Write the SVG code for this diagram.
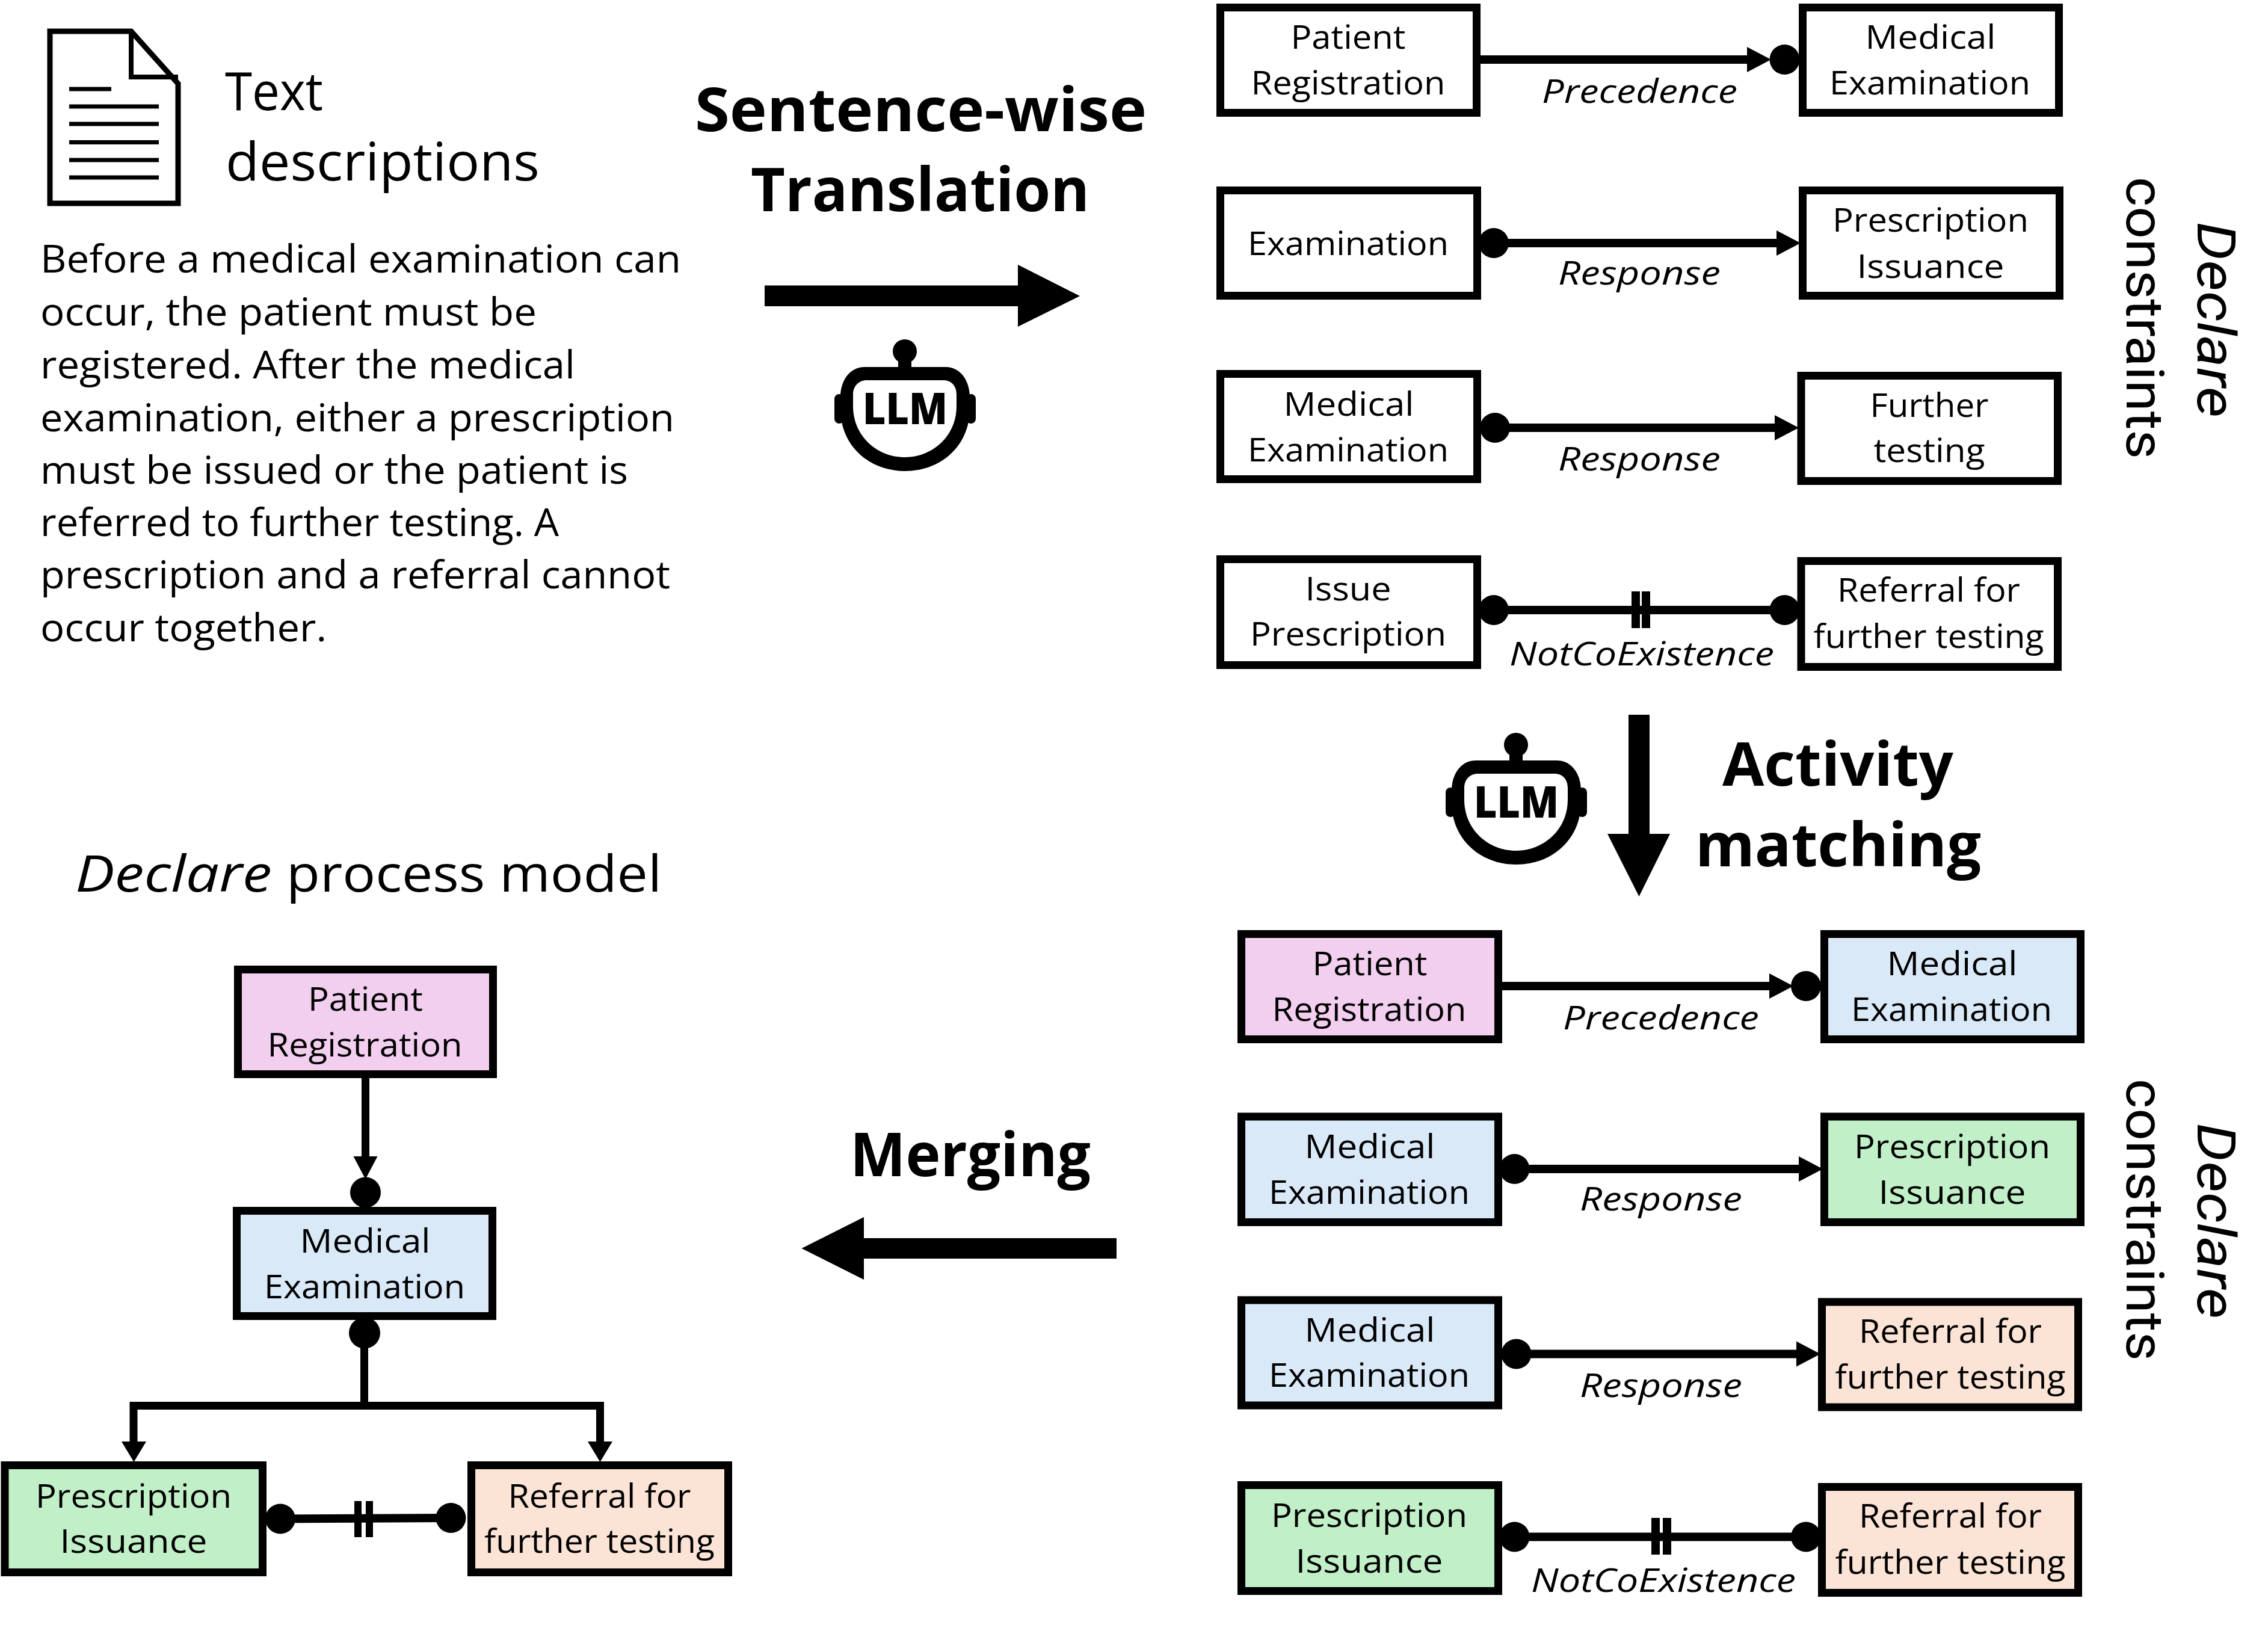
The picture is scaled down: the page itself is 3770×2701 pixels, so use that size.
<svg xmlns="http://www.w3.org/2000/svg" width="3770" height="2701" viewBox="0 0 3770 2701">
<style>
text{font-family:"Open Sans","Noto Sans","Liberation Sans",sans-serif;fill:#000}
.b{font-size:54px;text-anchor:middle}
.l{font-size:54px;font-style:italic}
.p{font-size:64px}
.t{font-size:87px}
.h{font-size:100px;font-weight:700}
.v{font-family:Roboto,"Open Sans",sans-serif;font-size:88px}
.n{stroke:#000;stroke-width:13;fill:#fff}
.pink{fill:#F2CEEF}.blue{fill:#DAE9F8}.green{fill:#C1F0C8}.peach{fill:#FBE3D6}
.c{stroke:#000;stroke-width:14;fill:none}
.a{marker-end:url(#ah)}
.dot{fill:#000}
.bar{fill:#000}
.ic{stroke:#000;stroke-width:7;fill:none}
.llm{font-size:73px;font-weight:800}
</style>
<defs>
<marker id="ah" markerUnits="userSpaceOnUse" markerWidth="42" markerHeight="44" refX="0" refY="22" orient="auto"><path d="M0,1 L40,22 L0,43Z" fill="#000"/></marker>
</defs>
<rect width="3770" height="2701" fill="#fff"/>

<g id="doc-icon">
<path d="M83,52 H218 L296,139 V338 H83Z" stroke="#000" stroke-width="9" fill="#fff"/>
<path d="M218,52 V128 H296" stroke="#000" stroke-width="8" fill="none"/>
<path class="ic" d="M115,148H185M115,177H264M115,206H264M115,236.500H264M115,266H264M115,295H264"/>
</g>
<g id="text-descriptions">
<text class="t" x="374" y="183" textLength="163" lengthAdjust="spacingAndGlyphs">Text</text>
<text class="t" x="375" y="300" textLength="522" lengthAdjust="spacingAndGlyphs">descriptions</text>
<text class="p" x="67" y="453" textLength="1065" lengthAdjust="spacingAndGlyphs">Before a medical examination can</text>
<text class="p" x="67" y="540.500" textLength="825" lengthAdjust="spacingAndGlyphs">occur, the patient must be</text>
<text class="p" x="67" y="628.500" textLength="889" lengthAdjust="spacingAndGlyphs">registered. After the medical</text>
<text class="p" x="67" y="717" textLength="1054" lengthAdjust="spacingAndGlyphs">examination, either a prescription</text>
<text class="p" x="67" y="804" textLength="977" lengthAdjust="spacingAndGlyphs">must be issued or the patient is</text>
<text class="p" x="67" y="891" textLength="862" lengthAdjust="spacingAndGlyphs">referred to further testing. A</text>
<text class="p" x="67" y="978" textLength="1047" lengthAdjust="spacingAndGlyphs">prescription and a referral cannot</text>
<text class="p" x="67" y="1066" textLength="476" lengthAdjust="spacingAndGlyphs">occur together.</text>
</g>

<g id="step-translation">
<text class="h" x="1155" y="218" textLength="751" lengthAdjust="spacingAndGlyphs">Sentence-wise</text>
<text class="h" x="1248" y="351" textLength="563" lengthAdjust="spacingAndGlyphs">Translation</text>
<path d="M1271,474.500H1692V440L1795,492L1692,543V509H1271Z"/>
</g>
<g id="llm-1">
<circle cx="1504" cy="584" r="20"/><rect x="1493" y="598" width="22" height="16"/>
<rect x="1387" y="655" width="16" height="49" rx="8"/><rect x="1606" y="655" width="16" height="49" rx="8"/>
<path fill-rule="evenodd" d="M1437,610H1572C1596,610 1612,632 1612,660V680C1612,740 1565,783 1504.500,783C1444,783 1397,740 1397,680V660C1397,632 1413,610 1437,610ZM1441,632C1427,632 1418,642 1418,656V675C1418,725 1458,760 1504,760C1550,760 1590,725 1590,675V656C1590,642 1582,632 1568,632Z"/>
<text class="llm" x="1434" y="705" textLength="141" lengthAdjust="spacingAndGlyphs">LLM</text>
</g>

<g id="connectors-top">
<path class="c a" d="M2461,99H2904"/><circle class="dot" cx="2966.500" cy="99" r="25"/>
<circle class="dot" cx="2483" cy="404" r="25"/><path class="c a" d="M2483,404H2953"/>
<circle class="dot" cx="2485" cy="711" r="25"/><path class="c a" d="M2485,711H2950"/>
<circle class="dot" cx="2483" cy="1014" r="25"/><circle class="dot" cx="2966.500" cy="1014" r="25"/><path class="c" d="M2483,1014H2966"/>
<rect class="bar" x="2712" y="983" width="14" height="61"/><rect class="bar" x="2729" y="983" width="14" height="61"/>
</g>
<g id="t1"><rect class="n" x="2028.500" y="12.500" width="426" height="175"/><text class="b" x="2241" y="81" textLength="191" lengthAdjust="spacingAndGlyphs">Patient</text><text class="b" x="2241" y="157" textLength="323" lengthAdjust="spacingAndGlyphs">Registration</text></g>
<g id="t2"><rect class="n" x="2996.500" y="12.500" width="426" height="175"/><text class="b" x="3209" y="81" textLength="217" lengthAdjust="spacingAndGlyphs">Medical</text><text class="b" x="3208" y="157" textLength="334" lengthAdjust="spacingAndGlyphs">Examination</text></g>
<g id="t3"><rect class="n" x="2028.500" y="316.500" width="427" height="175"/><text class="b" x="2241" y="424" textLength="334" lengthAdjust="spacingAndGlyphs">Examination</text></g>
<g id="t4"><rect class="n" x="2996.500" y="316.500" width="427" height="175"/><text class="b" x="3209" y="385" textLength="326" lengthAdjust="spacingAndGlyphs">Prescription</text><text class="b" x="3209" y="461.500" textLength="245" lengthAdjust="spacingAndGlyphs">Issuance</text></g>
<g id="t5"><rect class="n" x="2028.500" y="621.500" width="427" height="175"/><text class="b" x="2242" y="691" textLength="217" lengthAdjust="spacingAndGlyphs">Medical</text><text class="b" x="2241" y="767" textLength="334" lengthAdjust="spacingAndGlyphs">Examination</text></g>
<g id="t6"><rect class="n" x="2994" y="624.500" width="426.500" height="175"/><text class="b" x="3207" y="693" textLength="197" lengthAdjust="spacingAndGlyphs">Further</text><text class="b" x="3207" y="768" textLength="185" lengthAdjust="spacingAndGlyphs">testing</text></g>
<g id="t7"><rect class="n" x="2028.500" y="929.500" width="427" height="176"/><text class="b" x="2241" y="998" textLength="143" lengthAdjust="spacingAndGlyphs">Issue</text><text class="b" x="2241" y="1073" textLength="326" lengthAdjust="spacingAndGlyphs">Prescription</text></g>
<g id="t8"><rect class="n" x="2994" y="932.500" width="426.500" height="176"/><text class="b" x="3206" y="1000" textLength="304" lengthAdjust="spacingAndGlyphs">Referral for</text><text class="b" x="3206" y="1077" textLength="383" lengthAdjust="spacingAndGlyphs">further testing</text></g>
<g id="labels-top">
<text class="l" x="2563" y="171" textLength="325" lengthAdjust="spacingAndGlyphs">Precedence</text>
<text class="l" x="2590" y="473" textLength="270" lengthAdjust="spacingAndGlyphs">Response</text>
<text class="l" x="2590" y="782" textLength="270" lengthAdjust="spacingAndGlyphs">Response</text>
<text class="l" x="2509" y="1106" textLength="440" lengthAdjust="spacingAndGlyphs">NotCoExistence</text>
</g>
<g id="label-constraints-top">
<text class="v" transform="translate(3535,294) rotate(90)" textLength="469" lengthAdjust="spacingAndGlyphs">constraints</text>
<text class="v" style="font-style:italic" transform="translate(3652.500,369) rotate(90)" textLength="325" lengthAdjust="spacingAndGlyphs">Declare</text>
</g>

<g id="step-matching">
<path d="M2707,1188H2742V1386H2776L2724.500,1490L2672,1386H2707Z"/>
<text class="h" x="2863" y="1306" textLength="384" lengthAdjust="spacingAndGlyphs">Activity</text>
<text class="h" x="2818" y="1440" textLength="475" lengthAdjust="spacingAndGlyphs">matching</text>
</g>
<g id="llm-2" transform="translate(1016,654)">
<circle cx="1504" cy="584" r="20"/><rect x="1493" y="598" width="22" height="16"/>
<rect x="1387" y="655" width="16" height="49" rx="8"/><rect x="1606" y="655" width="16" height="49" rx="8"/>
<path fill-rule="evenodd" d="M1437,610H1572C1596,610 1612,632 1612,660V680C1612,740 1565,783 1504.500,783C1444,783 1397,740 1397,680V660C1397,632 1413,610 1437,610ZM1441,632C1427,632 1418,642 1418,656V675C1418,725 1458,760 1504,760C1550,760 1590,725 1590,675V656C1590,642 1582,632 1568,632Z"/>
<text class="llm" x="1434" y="705" textLength="141" lengthAdjust="spacingAndGlyphs">LLM</text>
</g>

<g id="connectors-mid">
<path class="c a" d="M2497,1639H2941"/><circle class="dot" cx="3002" cy="1639" r="25"/>
<circle class="dot" cx="2517.500" cy="1943" r="25"/><path class="c a" d="M2517,1943H2990"/>
<circle class="dot" cx="2520.500" cy="2250.500" r="25"/><path class="c a" d="M2520,2250.500H2986"/>
<circle class="dot" cx="2517.500" cy="2554.500" r="25"/><circle class="dot" cx="3002" cy="2554.500" r="25"/><path class="c" d="M2517,2554.500H3002"/>
<rect class="bar" x="2745" y="2523" width="14" height="61"/><rect class="bar" x="2764" y="2523" width="14" height="61"/>
</g>
<g id="m1"><rect class="n pink" x="2063.500" y="1552.500" width="427" height="175"/><text class="b" x="2277" y="1620.500" textLength="191" lengthAdjust="spacingAndGlyphs">Patient</text><text class="b" x="2276" y="1697" textLength="323" lengthAdjust="spacingAndGlyphs">Registration</text></g>
<g id="m2"><rect class="n blue" x="3032.500" y="1552.500" width="426" height="175"/><text class="b" x="3245" y="1620.500" textLength="217" lengthAdjust="spacingAndGlyphs">Medical</text><text class="b" x="3244" y="1697" textLength="334" lengthAdjust="spacingAndGlyphs">Examination</text></g>
<g id="m3"><rect class="n blue" x="2063.500" y="1856" width="427" height="175.500"/><text class="b" x="2277" y="1925" textLength="217" lengthAdjust="spacingAndGlyphs">Medical</text><text class="b" x="2276" y="2001" textLength="334" lengthAdjust="spacingAndGlyphs">Examination</text></g>
<g id="m4"><rect class="n green" x="3032.500" y="1856" width="426" height="175.500"/><text class="b" x="3245" y="1925" textLength="326" lengthAdjust="spacingAndGlyphs">Prescription</text><text class="b" x="3245" y="2001" textLength="245" lengthAdjust="spacingAndGlyphs">Issuance</text></g>
<g id="m5"><rect class="n blue" x="2063.500" y="2161" width="427" height="175"/><text class="b" x="2277" y="2230" textLength="217" lengthAdjust="spacingAndGlyphs">Medical</text><text class="b" x="2276" y="2305" textLength="334" lengthAdjust="spacingAndGlyphs">Examination</text></g>
<g id="m6"><rect class="n peach" x="3028.500" y="2164" width="426" height="175"/><text class="b" x="3242" y="2232" textLength="304" lengthAdjust="spacingAndGlyphs">Referral for</text><text class="b" x="3242" y="2308" textLength="383" lengthAdjust="spacingAndGlyphs">further testing</text></g>
<g id="m7"><rect class="n green" x="2063.500" y="2468.500" width="427" height="176"/><text class="b" x="2276" y="2537.500" textLength="326" lengthAdjust="spacingAndGlyphs">Prescription</text><text class="b" x="2276" y="2614" textLength="245" lengthAdjust="spacingAndGlyphs">Issuance</text></g>
<g id="m8"><rect class="n peach" x="3028.500" y="2471.500" width="426" height="176"/><text class="b" x="3242" y="2539" textLength="304" lengthAdjust="spacingAndGlyphs">Referral for</text><text class="b" x="3242" y="2616" textLength="383" lengthAdjust="spacingAndGlyphs">further testing</text></g>
<g id="labels-mid">
<text class="l" x="2598" y="1711" textLength="326" lengthAdjust="spacingAndGlyphs">Precedence</text>
<text class="l" x="2626" y="2012" textLength="270" lengthAdjust="spacingAndGlyphs">Response</text>
<text class="l" x="2626" y="2322" textLength="270" lengthAdjust="spacingAndGlyphs">Response</text>
<text class="l" x="2545" y="2646" textLength="440" lengthAdjust="spacingAndGlyphs">NotCoExistence</text>
</g>
<g id="label-constraints-mid">
<text class="v" transform="translate(3535,1793) rotate(90)" textLength="469" lengthAdjust="spacingAndGlyphs">constraints</text>
<text class="v" style="font-style:italic" transform="translate(3652.500,1867) rotate(90)" textLength="325" lengthAdjust="spacingAndGlyphs">Declare</text>
</g>

<g id="step-merging">
<text class="h" x="1413" y="1955" textLength="400" lengthAdjust="spacingAndGlyphs">Merging</text>
<path d="M1856,2058H1436V2023L1332.500,2075L1436,2127V2092H1856Z"/>
</g>

<g id="title-model">
<text x="125" y="1482" style="font-size:84px;font-style:italic" textLength="327" lengthAdjust="spacingAndGlyphs">Declare</text>
<text x="476" y="1482" style="font-size:84px" textLength="624" lengthAdjust="spacingAndGlyphs">process model</text>
</g>
<g id="connectors-model">
<path class="c" style="stroke-width:13" d="M607.500,1792V1922"/><path d="M587.500,1922H627.500L607.500,1960Z"/><circle class="dot" cx="607.500" cy="1982" r="25.500"/>
<circle class="dot" cx="606" cy="2215.500" r="26"/>
<path class="c" style="stroke-width:13" d="M605.500,2215V2336"/>
<path class="c" style="stroke-width:13" d="M222,2396V2336.500H997.500V2396"/>
<path d="M202,2396H243L222.500,2430Z"/><path d="M977,2396H1018L997.500,2430Z"/>
<circle class="dot" cx="466" cy="2524.500" r="25"/><circle class="dot" cx="749.500" cy="2523" r="25"/>
<path class="c" d="M466,2524.500L750,2523"/>
<rect class="bar" x="589" y="2495" width="12" height="60"/><rect class="bar" x="608" y="2495" width="12" height="60"/>
</g>
<g id="d1"><rect class="n pink" x="395.500" y="1611.500" width="424" height="174"/><text class="b" x="607.500" y="1680" textLength="191" lengthAdjust="spacingAndGlyphs">Patient</text><text class="b" x="606.500" y="1756" textLength="324" lengthAdjust="spacingAndGlyphs">Registration</text></g>
<g id="d2"><rect class="n blue" x="393.500" y="2012.500" width="425" height="175"/><text class="b" x="607" y="2082" textLength="217" lengthAdjust="spacingAndGlyphs">Medical</text><text class="b" x="606" y="2158" textLength="334" lengthAdjust="spacingAndGlyphs">Examination</text></g>
<g id="d3"><rect class="n green" x="8" y="2435.500" width="428.500" height="178"/><text class="b" x="222" y="2505.500" textLength="326" lengthAdjust="spacingAndGlyphs">Prescription</text><text class="b" x="222" y="2581" textLength="245" lengthAdjust="spacingAndGlyphs">Issuance</text></g>
<g id="d4"><rect class="n peach" x="783.500" y="2435.500" width="427" height="178"/><text class="b" x="996.500" y="2505.500" textLength="304" lengthAdjust="spacingAndGlyphs">Referral for</text><text class="b" x="996.500" y="2581" textLength="383" lengthAdjust="spacingAndGlyphs">further testing</text></g>
</svg>
